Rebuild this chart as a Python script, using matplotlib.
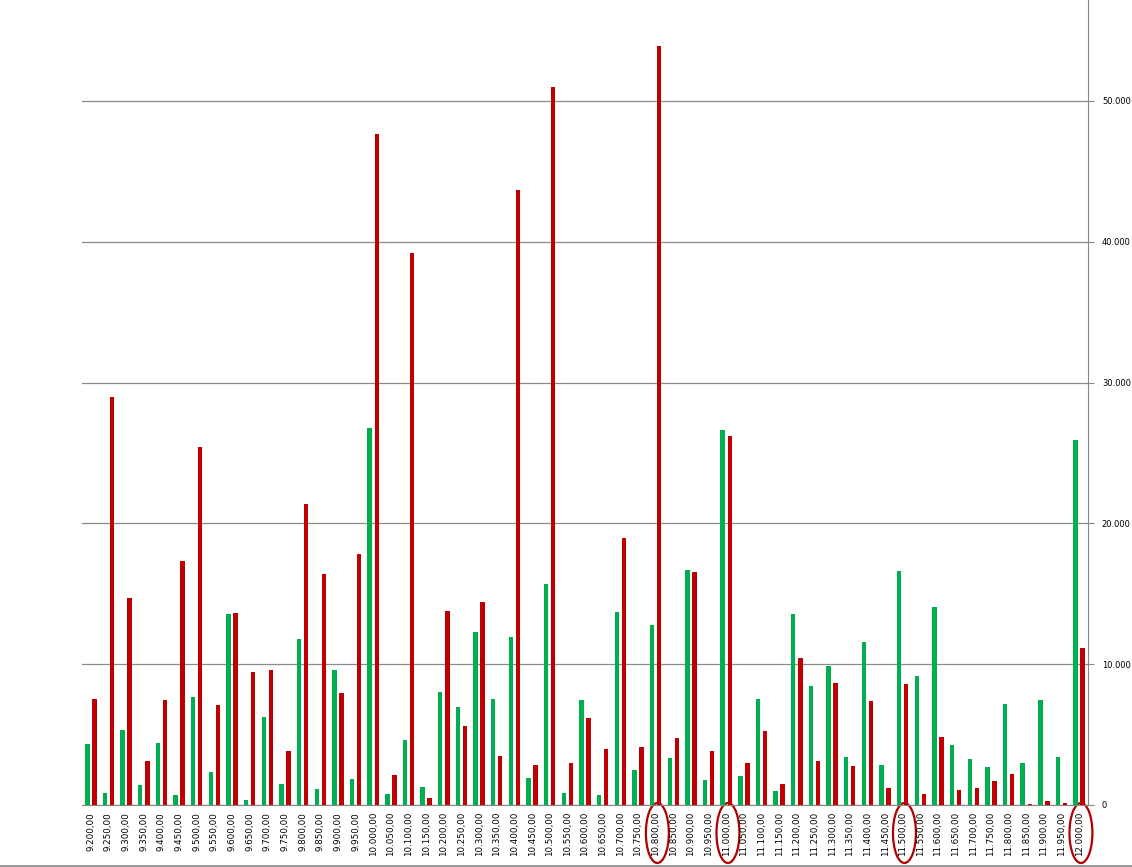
import numpy as np
from matplotlib import pyplot as plt
from matplotlib.patches import Ellipse
from matplotlib.lines import Line2D
from matplotlib import transforms


strikes = list(range(9200, 12001, 50))

calls = [4330, 850, 5330, 1420, 4400, 710, 7670, 2340, 13560, 360,
         6250, 1490, 11790, 1140, 9590, 1850, 26780, 780, 4620, 1280,
         8030, 6960, 12290, 7530, 11930, 1920, 15700, 850, 7460, 710,
         13710, 2490, 12780, 3340, 16690, 1780, 26630, 2060, 7530, 990,
         13570, 8450, 9870, 3410, 11580, 2840, 16620, 9160, 14060, 4260,
         3270, 2700, 7170, 2980, 7460, 3410, 25920]

puts = [7530, 29000, 14700, 3130, 7460, 17330, 25400, 7100, 13640, 9450,
        9590, 3840, 21380, 16410, 7950, 17830, 47660, 2130, 39200, 500,
        13780, 5610, 14420, 3480, 43680, 2840, 51000, 2980, 6180, 3980,
        18960, 4120, 53900, 4760, 16550, 3840, 26210, 2980, 5260, 1490,
        10440, 3130, 8660, 2770, 7390, 1210, 8590, 780, 4830, 1070,
        1210, 1700, 2200, 70, 280, 140, 11150]

circled = [10800, 11000, 11500, 12000]

yticks = [0, 10000, 20000, 30000, 40000, 50000]


def euro(v, dec):
    s = f"{v:,.{dec}f}"
    return s.replace(",", "X").replace(".", ",").replace("X", ".")


fig = plt.figure(figsize=(11.32, 8.67), dpi=100)
ax = fig.add_axes([82/1132, 62/867, 1006/1132, 805/867])

x = np.arange(len(strikes))
ax.bar(x - 0.2, calls, width=0.25, color="#00B050", zorder=3)
ax.bar(x + 0.2, puts, width=0.25, color="#C00000", zorder=3)

ax.set_xlim(-0.5, len(strikes) - 0.5)
ax.set_ylim(0, 57173)

ax.set_xticks(x)
ax.set_xticklabels([euro(s, 2) for s in strikes], rotation=90, fontsize=6.3)
ax.tick_params(axis="x", length=0, pad=5)

ax.yaxis.tick_right()
ax.set_yticks(yticks)
ax.set_yticklabels([euro(t, 0) for t in yticks], fontsize=6)
ax.tick_params(axis="y", length=4, color="#868686", pad=6)

ax.grid(axis="y", color="#8c8c8c", linewidth=0.9, zorder=0)
for side in ["top", "left"]:
    ax.spines[side].set_visible(False)
ax.spines["right"].set_color("#868686")
ax.spines["bottom"].set_color("#868686")

# red rings round some strike labels
trans = transforms.blended_transform_factory(ax.transData, fig.transFigure)
for c in circled:
    i = strikes.index(c)
    e = Ellipse((i + 0.1, (867 - 833)/867), width=1.3, height=60/867,
                transform=trans, fill=False, edgecolor="#B00000",
                linewidth=1.6, clip_on=False)
    ax.add_artist(e)

fig.add_artist(Line2D([0, 1], [1.5/867, 1.5/867], color="#868686", linewidth=1.2))

plt.savefig("out.png", dpi=100)
